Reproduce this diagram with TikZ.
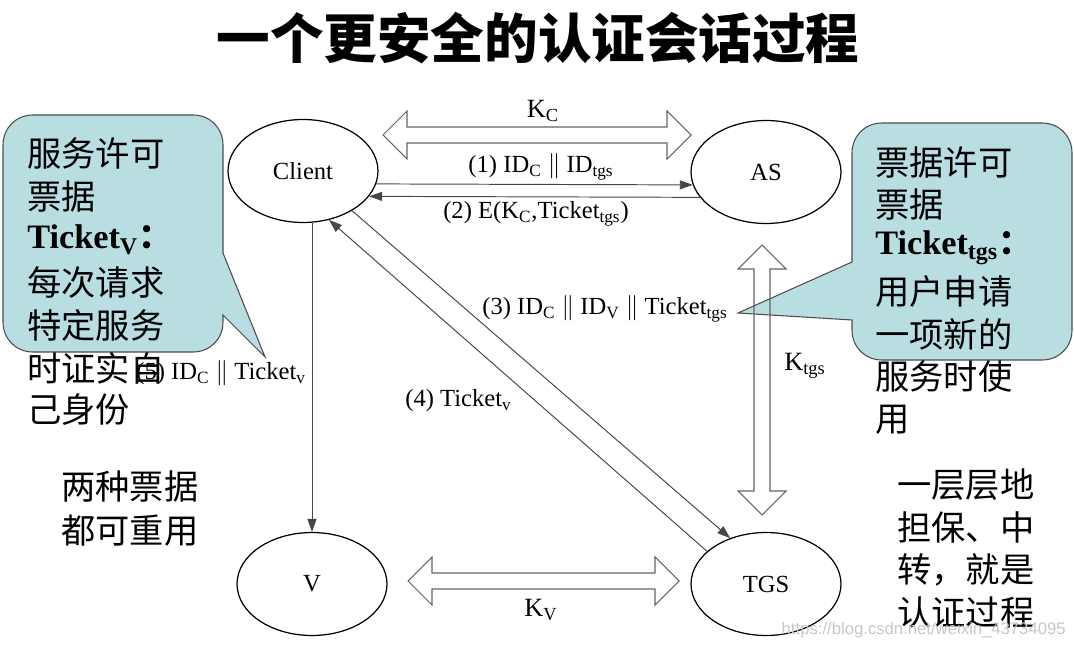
\documentclass[tikz,border=0pt]{standalone}
\usepackage{fontspec}
\setmainfont{Liberation Serif}
\newfontfamily\cjk{Noto Sans CJK SC}
\newfontfamily\wmfont{Liberation Sans}
\usetikzlibrary{shapes.geometric,arrows.meta,calc}
\definecolor{callfill}{RGB}{185,222,226}
\definecolor{linegray}{RGB}{70,70,70}
\definecolor{dblgray}{RGB}{100,100,100}
\begin{document}
\begin{tikzpicture}[x=0.02cm,y=-0.02cm,
  party/.style={ellipse,draw=black,line width=0.7pt,minimum width=3cm,minimum height=2.06cm,inner sep=0pt,font=\fontsize{14}{16}\selectfont},
  msg/.style={draw=linegray,line width=0.55pt,-{Triangle[length=2.6mm,width=1.8mm]}},
  lbl/.style={inner sep=0pt,font=\fontsize{14}{16}\selectfont},
  keylbl/.style={inner sep=0pt,font=\fontsize{15}{17}\selectfont},
  dbl/.style={draw=dblgray,line width=0.6pt},
  callout/.style={fill=callfill,draw=black!70,line width=0.6pt},
  cjkline/.style={inner sep=0pt,anchor=west,font=\fontsize{19.5}{22}\cjk},
  tkline/.style={inner sep=0pt,anchor=west,font=\fontsize{19.5}{22}\selectfont\bfseries},
]
\useasboundingbox (0,0) rectangle (1074,648);

% title
\node[inner sep=0pt,font=\fontsize{30.5}{34}\cjk\bfseries] (title) at (538,38) {一个更安全的认证会话过程};

% callouts (drawn first, under the connectors)
\path[callout] (33,115) -- (193,115) .. controls (210,115) and (223,128) .. (223,145)
  -- (223,253) -- (265,357) -- (223,315) -- (223,322)
  .. controls (223,339) and (210,352) .. (193,352) -- (33,352)
  .. controls (16,352) and (3,339) .. (3,322) -- (3,145)
  .. controls (3,128) and (16,115) .. (33,115) -- cycle;
\path[callout] (882,123) -- (1042,123) .. controls (1059,123) and (1072,136) .. (1072,153)
  -- (1072,330) .. controls (1072,347) and (1059,360) .. (1042,360) -- (882,360)
  .. controls (865,360) and (852,347) .. (852,330) -- (852,320) -- (738,313) -- (852,262)
  -- (852,153) .. controls (852,136) and (865,123) .. (882,123) -- cycle;

% left callout text
\node[cjkline] (la1) at (27,153) {服务许可};
\node[cjkline] (la2) at (27,197) {票据};
\node[tkline] (la3) at (27,240) {Ticket\textsubscript{V}{\cjk\bfseries ：}};
\node[cjkline] (la4) at (27,282) {每次请求};
\node[cjkline] (la5) at (27,325) {特定服务};
\node[cjkline] (la6) at (27,368) {时证实自};
\node[cjkline] (la7) at (27,410) {己身份};

% right callout text
\node[cjkline] (ra1) at (875,162) {票据许可};
\node[cjkline] (ra2) at (875,205) {票据};
\node[tkline] (ra3) at (875,248) {Ticket\textsubscript{tgs}{\cjk\bfseries ：}};
\node[cjkline] (ra4) at (875,291) {用户申请};
\node[cjkline] (ra5) at (875,334) {一项新的};
\node[cjkline] (ra6) at (875,377) {服务时使};
\node[cjkline] (ra7) at (875,420) {用};

% side notes
\node[cjkline] (nb1) at (61,487) {两种票据};
\node[cjkline] (nb2) at (61,531) {都可重用};
\node[cjkline] (nr1) at (897,485) {一层层地};
\node[cjkline] (nr2) at (897,527) {担保、中};
\node[cjkline] (nr3) at (897,570) {转，就是};
\node[cjkline] (nr4) at (897,612) {认证过程};

% parties
\node[party] (Client) at (303,171) {Client};
\node[party] (AS) at (766,172) {AS};
\node[party] (V) at (312,584) {V};
\node[party] (TGS) at (766,584) {TGS};

% key double arrows
\path[dbl] (383,135) -- (407,111) -- (407,127) -- (667,127) -- (667,111) -- (691,135)
  -- (667,159) -- (667,143) -- (407,143) -- (407,159) -- cycle;
\path[dbl] (408,581) -- (432,557) -- (432,573) -- (655,573) -- (655,557) -- (679,581)
  -- (655,605) -- (655,589) -- (432,589) -- (432,605) -- cycle;
\path[dbl] (762,245) -- (786,269) -- (770,269) -- (770,491) -- (786,491) -- (762,515)
  -- (738,491) -- (754,491) -- (754,269) -- (738,269) -- cycle;
\node[keylbl] (kc) at (543,111) {K\textsubscript{C}};
\node[keylbl] (kv) at (541,610) {K\textsubscript{V}};
\node[keylbl] (ktgs) at (805,366) {K\textsubscript{tgs}};

% messages
\draw[msg] (Client.-10) -- (AS.190);
\draw[msg] (AS.201) -- (Client.-21);
\draw[msg] (Client.-39) -- (TGS.128);
\draw[msg] (TGS.151) -- (Client.-62);
\draw[msg] (V.north |- Client.south) -- (V.north);

\node[lbl] (m1) at (541,167) {(1) ID\textsubscript{C} $\|$ ID\textsubscript{tgs}};
\node[lbl] (m2) at (536,214) {(2) E(K\textsubscript{C},Ticket\textsubscript{tgs})};
\node[lbl,anchor=west] (m3) at (482,309) {(3) ID\textsubscript{C} $\|$ ID\textsubscript{V} $\|$ Ticket\textsubscript{tgs}};
\node[lbl,anchor=west] (m4) at (405,401) {(4) Ticket\textsubscript{v}};
\node[lbl,anchor=west] (m5) at (136,373) {(5) ID\textsubscript{C} $\|$ Ticket\textsubscript{v}};

% watermark
\node[inner sep=0pt,anchor=east,text=black!22,font=\fontsize{9.5}{11}\wmfont] (wm) at (1066,630) {https://blog.csdn.net/weixin\_43734095};
\end{tikzpicture}
\end{document}
